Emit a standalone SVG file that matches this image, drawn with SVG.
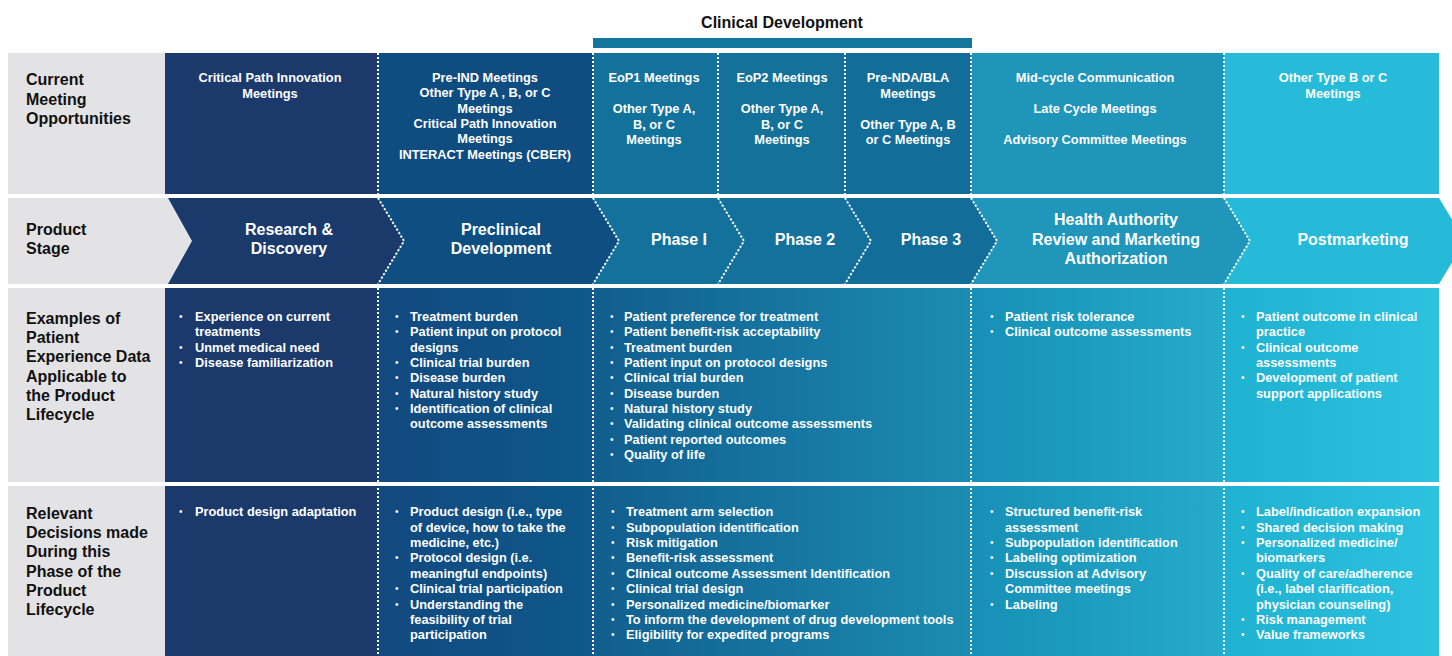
<svg xmlns="http://www.w3.org/2000/svg" width="1452" height="656" viewBox="0 0 1452 656">
<defs>
<linearGradient id="gCol2" x1="0" y1="0" x2="1" y2="0"><stop offset="0" stop-color="#12497f"/><stop offset="1" stop-color="#0e588a"/></linearGradient>
<linearGradient id="gPhase" x1="0" y1="0" x2="1" y2="0"><stop offset="0" stop-color="#115e8e"/><stop offset="1" stop-color="#1b8cb3"/></linearGradient>
<linearGradient id="gHA" x1="0" y1="0" x2="1" y2="0"><stop offset="0" stop-color="#1790b6"/><stop offset="1" stop-color="#25abcc"/></linearGradient>
<linearGradient id="gPost" x1="0" y1="0" x2="1" y2="0"><stop offset="0" stop-color="#1fb1d1"/><stop offset="1" stop-color="#2cc3df"/></linearGradient>
</defs>
<style>
.gray{fill:#e3e3e5}
.lbl{font-family:"Liberation Sans",Arial,sans-serif;font-weight:bold;font-size:16px;fill:#111}
.w{font-family:"Liberation Sans",Arial,sans-serif;font-weight:bold;font-size:12.8px;fill:#fff}
.c{text-anchor:middle}
.st{font-family:"Liberation Sans",Arial,sans-serif;font-weight:bold;font-size:16px;fill:#fff;text-anchor:middle}
.b{font-family:"Liberation Sans",Arial,sans-serif;font-size:10px;fill:#fff}
.sep{stroke:#fff;stroke-width:2;stroke-dasharray:2 2;fill:none}
.hd{font-family:"Liberation Sans",Arial,sans-serif;font-weight:bold;font-size:16px;fill:#111;text-anchor:middle}
</style>
<rect width="1452" height="656" fill="#fff"/>

<g id="clinical-development">
<text class="hd" x="782" y="28">Clinical Development</text>
<rect x="593" y="38" width="379" height="10" fill="#13769c"/>
</g>

<!-- Row 1: Current Meeting Opportunities -->
<g id="row1-label">
<rect class="gray" x="8" y="53" width="157" height="141"/>
<text class="lbl" x="26" y="85">Current</text>
<text class="lbl" x="26" y="105">Meeting</text>
<text class="lbl" x="26" y="124">Opportunities</text>
</g>
<g id="row1-research">
<rect x="165" y="53" width="213" height="141" fill="#1b3a6b"/>
<text class="w c" x="270" y="82">Critical Path Innovation</text>
<text class="w c" x="270" y="97.5">Meetings</text>
</g>
<g id="row1-preclinical">
<rect x="378" y="53" width="215" height="141" fill="#0f4c7f"/>
<text class="w c" x="485" y="82">Pre-IND Meetings</text>
<text class="w c" x="485" y="97.3">Other Type A , B, or C</text>
<text class="w c" x="485" y="112.6">Meetings</text>
<text class="w c" x="485" y="127.9">Critical Path Innovation</text>
<text class="w c" x="485" y="143.2">Meetings</text>
<text class="w c" x="485" y="158.5">INTERACT Meetings (CBER)</text>
</g>
<g id="row1-phase1">
<rect x="593" y="53" width="125" height="141" fill="#13729b"/>
<text class="w c" x="654" y="82">EoP1 Meetings</text>
<text class="w c" x="654" y="113">Other Type A,</text>
<text class="w c" x="654" y="128.5">B, or C</text>
<text class="w c" x="654" y="144">Meetings</text>
</g>
<g id="row1-phase2">
<rect x="718" y="53" width="127" height="141" fill="#13719a"/>
<text class="w c" x="782" y="82">EoP2 Meetings</text>
<text class="w c" x="782" y="113">Other Type A,</text>
<text class="w c" x="782" y="128.5">B, or C</text>
<text class="w c" x="782" y="144">Meetings</text>
</g>
<g id="row1-phase3">
<rect x="845" y="53" width="126" height="141" fill="#126e98"/>
<text class="w c" x="908" y="82">Pre-NDA/BLA</text>
<text class="w c" x="908" y="97.5">Meetings</text>
<text class="w c" x="908" y="128.5">Other Type A, B</text>
<text class="w c" x="908" y="144">or C Meetings</text>
</g>
<g id="row1-review">
<rect x="971" y="53" width="253" height="141" fill="#2095ba"/>
<text class="w c" x="1095" y="82">Mid-cycle Communication</text>
<text class="w c" x="1095" y="113">Late Cycle Meetings</text>
<text class="w c" x="1095" y="144">Advisory Committee Meetings</text>
</g>
<g id="row1-post">
<rect x="1224" y="53" width="215" height="141" fill="#26bcd9"/>
<text class="w c" x="1333" y="82">Other Type B or C</text>
<text class="w c" x="1333" y="97.5">Meetings</text>
</g>

<!-- Row 2: Product Stage -->
<g id="row2-label">
<rect class="gray" x="8" y="198" width="190" height="86"/>
<text class="lbl" x="26" y="235">Product</text>
<text class="lbl" x="26" y="254">Stage</text>
</g>
<g id="stage-research">
<polygon points="168,198 378,198 404,241 378,284 168,284 192,241" fill="#1b3a6c"/>
<text class="st" x="289" y="235">Research &amp;</text>
<text class="st" x="289" y="254">Discovery</text>
</g>
<g id="stage-preclinical">
<polygon points="378,198 593,198 619,241 593,284 378,284 404,241" fill="#0e4e81"/>
<text class="st" x="501" y="235">Preclinical</text>
<text class="st" x="501" y="254">Development</text>
</g>
<g id="stage-phase1">
<polygon points="593,198 718,198 744,241 718,284 593,284 619,241" fill="#13729c"/>
<text class="st" x="679" y="245">Phase I</text>
</g>
<g id="stage-phase2">
<polygon points="718,198 845,198 871,241 845,284 718,284 744,241" fill="#13719b"/>
<text class="st" x="805" y="245">Phase 2</text>
</g>
<g id="stage-phase3">
<polygon points="845,198 971,198 997,241 971,284 845,284 871,241" fill="#126e98"/>
<text class="st" x="931" y="245">Phase 3</text>
</g>
<g id="stage-review">
<polygon points="971,198 1224,198 1250,241 1224,284 971,284 997,241" fill="#2096ba"/>
<text class="st" x="1116" y="225">Health Authority</text>
<text class="st" x="1116" y="245">Review and Marketing</text>
<text class="st" x="1116" y="264">Authorization</text>
</g>
<g id="stage-post">
<polygon points="1224,198 1439,198 1465,241 1439,284 1224,284 1250,241" fill="#24bad8"/>
<text class="st" x="1353" y="245">Postmarketing</text>
</g>

<!-- Row 3: Examples of Patient Experience Data -->
<g id="row3-label">
<rect class="gray" x="8" y="288" width="157" height="194"/>
<text class="lbl" x="26" y="324">Examples of</text>
<text class="lbl" x="26" y="343">Patient</text>
<text class="lbl" x="26" y="362">Experience Data</text>
<text class="lbl" x="26" y="382">Applicable to</text>
<text class="lbl" x="26" y="401">the Product</text>
<text class="lbl" x="26" y="420">Lifecycle</text>
</g>
<g id="row3-research">
<rect x="165" y="288" width="213" height="194" fill="#1b3a6b"/>
<text class="b" x="179" y="319.5">•</text><text class="w" x="195" y="320.5">Experience on current</text>
<text class="w" x="195" y="336">treatments</text>
<text class="b" x="179" y="350.5">•</text><text class="w" x="195" y="351.5">Unmet medical need</text>
<text class="b" x="179" y="365.5">•</text><text class="w" x="195" y="366.5">Disease familiarization</text>
</g>
<g id="row3-preclinical">
<rect x="378" y="288" width="215" height="194" fill="url(#gCol2)"/>
<text class="b" x="395" y="319.5">•</text><text class="w" x="410" y="320.5">Treatment burden</text>
<text class="b" x="395" y="335">•</text><text class="w" x="410" y="336">Patient input on protocol</text>
<text class="w" x="410" y="351.5">designs</text>
<text class="b" x="395" y="365.5">•</text><text class="w" x="410" y="366.5">Clinical trial burden</text>
<text class="b" x="395" y="381">•</text><text class="w" x="410" y="382">Disease burden</text>
<text class="b" x="395" y="396.5">•</text><text class="w" x="410" y="397.5">Natural history study</text>
<text class="b" x="395" y="411.5">•</text><text class="w" x="410" y="412.5">Identification of clinical</text>
<text class="w" x="410" y="428">outcome assessments</text>
</g>
<g id="row3-clinical">
<rect x="593" y="288" width="378" height="194" fill="url(#gPhase)"/>
<text class="b" x="610" y="319.5">•</text><text class="w" x="624" y="320.5">Patient preference for treatment</text>
<text class="b" x="610" y="335">•</text><text class="w" x="624" y="336">Patient benefit-risk acceptability</text>
<text class="b" x="610" y="350.5">•</text><text class="w" x="624" y="351.5">Treatment burden</text>
<text class="b" x="610" y="365.5">•</text><text class="w" x="624" y="366.5">Patient input on protocol designs</text>
<text class="b" x="610" y="381">•</text><text class="w" x="624" y="382">Clinical trial burden</text>
<text class="b" x="610" y="396.5">•</text><text class="w" x="624" y="397.5">Disease burden</text>
<text class="b" x="610" y="411.5">•</text><text class="w" x="624" y="412.5">Natural history study</text>
<text class="b" x="610" y="427">•</text><text class="w" x="624" y="428">Validating clinical outcome assessments</text>
<text class="b" x="610" y="442.5">•</text><text class="w" x="624" y="443.5">Patient reported outcomes</text>
<text class="b" x="610" y="457.5">•</text><text class="w" x="624" y="458.5">Quality of life</text>
</g>
<g id="row3-review">
<rect x="971" y="288" width="253" height="194" fill="url(#gHA)"/>
<text class="b" x="990" y="319.5">•</text><text class="w" x="1005" y="320.5">Patient risk tolerance</text>
<text class="b" x="990" y="335">•</text><text class="w" x="1005" y="336">Clinical outcome assessments</text>
</g>
<g id="row3-post">
<rect x="1224" y="288" width="215" height="194" fill="url(#gPost)"/>
<text class="b" x="1241" y="319.5">•</text><text class="w" x="1256" y="320.5">Patient outcome in clinical</text>
<text class="w" x="1256" y="336">practice</text>
<text class="b" x="1241" y="350.5">•</text><text class="w" x="1256" y="351.5">Clinical outcome</text>
<text class="w" x="1256" y="366.5">assessments</text>
<text class="b" x="1241" y="381">•</text><text class="w" x="1256" y="382">Development of patient</text>
<text class="w" x="1256" y="397.5">support applications</text>
</g>

<!-- Row 4: Relevant Decisions -->
<g id="row4-label">
<rect class="gray" x="8" y="486" width="157" height="170"/>
<text class="lbl" x="26" y="519">Relevant</text>
<text class="lbl" x="26" y="538">Decisions made</text>
<text class="lbl" x="26" y="557">During this</text>
<text class="lbl" x="26" y="577">Phase of the</text>
<text class="lbl" x="26" y="596">Product</text>
<text class="lbl" x="26" y="615">Lifecycle</text>
</g>
<g id="row4-research">
<rect x="165" y="486" width="213" height="170" fill="#1b3a6b"/>
<text class="b" x="179" y="515">•</text><text class="w" x="195" y="516">Product design adaptation</text>
</g>
<g id="row4-preclinical">
<rect x="378" y="486" width="215" height="170" fill="url(#gCol2)"/>
<text class="b" x="395" y="515">•</text><text class="w" x="410" y="516">Product design (i.e., type</text>
<text class="w" x="410" y="531.5">of device, how to take the</text>
<text class="w" x="410" y="547">medicine, etc.)</text>
<text class="b" x="395" y="561">•</text><text class="w" x="410" y="562">Protocol design (i.e.</text>
<text class="w" x="410" y="577.5">meaningful endpoints)</text>
<text class="b" x="395" y="592">•</text><text class="w" x="410" y="593">Clinical trial participation</text>
<text class="b" x="395" y="607.5">•</text><text class="w" x="410" y="608.5">Understanding the</text>
<text class="w" x="410" y="624">feasibility of trial</text>
<text class="w" x="410" y="639">participation</text>
</g>
<g id="row4-clinical">
<rect x="593" y="486" width="378" height="170" fill="url(#gPhase)"/>
<text class="b" x="611" y="515">•</text><text class="w" x="626" y="516">Treatment arm selection</text>
<text class="b" x="611" y="530.5">•</text><text class="w" x="626" y="531.5">Subpopulation identification</text>
<text class="b" x="611" y="546">•</text><text class="w" x="626" y="547">Risk mitigation</text>
<text class="b" x="611" y="561">•</text><text class="w" x="626" y="562">Benefit-risk assessment</text>
<text class="b" x="611" y="576.5">•</text><text class="w" x="626" y="577.5">Clinical outcome Assessment Identification</text>
<text class="b" x="611" y="592">•</text><text class="w" x="626" y="593">Clinical trial design</text>
<text class="b" x="611" y="607.5">•</text><text class="w" x="626" y="608.5">Personalized medicine/biomarker</text>
<text class="b" x="611" y="623">•</text><text class="w" x="626" y="624">To inform the development of drug development tools</text>
<text class="b" x="611" y="638">•</text><text class="w" x="626" y="639">Eligibility for expedited programs</text>
</g>
<g id="row4-review">
<rect x="971" y="486" width="253" height="170" fill="url(#gHA)"/>
<text class="b" x="990" y="515">•</text><text class="w" x="1005" y="516">Structured benefit-risk</text>
<text class="w" x="1005" y="531.5">assessment</text>
<text class="b" x="990" y="546">•</text><text class="w" x="1005" y="547">Subpopulation identification</text>
<text class="b" x="990" y="561">•</text><text class="w" x="1005" y="562">Labeling optimization</text>
<text class="b" x="990" y="576.5">•</text><text class="w" x="1005" y="577.5">Discussion at Advisory</text>
<text class="w" x="1005" y="593">Committee meetings</text>
<text class="b" x="990" y="607.5">•</text><text class="w" x="1005" y="608.5">Labeling</text>
</g>
<g id="row4-post">
<rect x="1224" y="486" width="215" height="170" fill="url(#gPost)"/>
<text class="b" x="1241" y="515">•</text><text class="w" x="1256" y="516">Label/indication expansion</text>
<text class="b" x="1241" y="530.5">•</text><text class="w" x="1256" y="531.5">Shared decision making</text>
<text class="b" x="1241" y="546">•</text><text class="w" x="1256" y="547">Personalized medicine/</text>
<text class="w" x="1256" y="562">biomarkers</text>
<text class="b" x="1241" y="576.5">•</text><text class="w" x="1256" y="577.5">Quality of care/adherence</text>
<text class="w" x="1256" y="593">(i.e., label clarification,</text>
<text class="w" x="1256" y="608.5">physician counseling)</text>
<text class="b" x="1241" y="623">•</text><text class="w" x="1256" y="624">Risk management</text>
<text class="b" x="1241" y="638">•</text><text class="w" x="1256" y="639">Value frameworks</text>
</g>

<!-- Dotted separators -->
<g id="connectors">
<line class="sep" x1="378" y1="53" x2="378" y2="198"/>
<line class="sep" x1="593" y1="53" x2="593" y2="198"/>
<line class="sep" x1="718" y1="53" x2="718" y2="198"/>
<line class="sep" x1="845" y1="53" x2="845" y2="198"/>
<line class="sep" x1="971" y1="53" x2="971" y2="198"/>
<line class="sep" x1="1224" y1="53" x2="1224" y2="198"/>
<polyline class="sep" points="378,198 404,241 378,284"/>
<polyline class="sep" points="593,198 619,241 593,284"/>
<polyline class="sep" points="718,198 744,241 718,284"/>
<polyline class="sep" points="845,198 871,241 845,284"/>
<polyline class="sep" points="971,198 997,241 971,284"/>
<polyline class="sep" points="1224,198 1250,241 1224,284"/>
<line class="sep" x1="378" y1="284" x2="378" y2="656"/>
<line class="sep" x1="593" y1="284" x2="593" y2="656"/>
<line class="sep" x1="971" y1="284" x2="971" y2="656"/>
<line class="sep" x1="1224" y1="284" x2="1224" y2="656"/>
</g>
</svg>
